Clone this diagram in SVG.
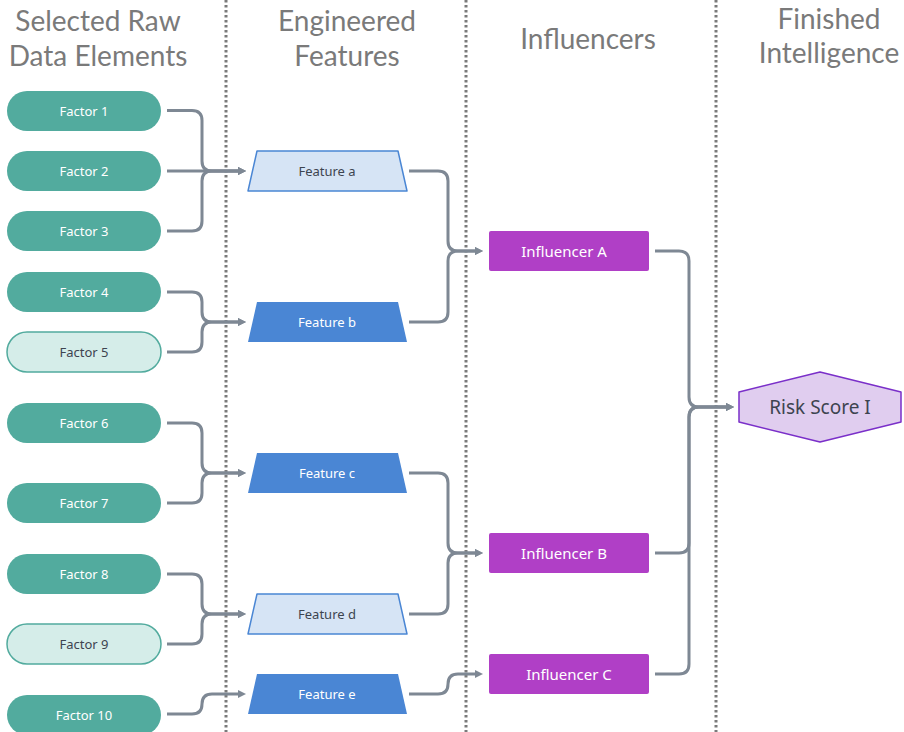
<svg xmlns="http://www.w3.org/2000/svg" width="904" height="732" viewBox="0 0 904 732">
<defs>
<marker id="arr" markerUnits="userSpaceOnUse" markerWidth="10" markerHeight="10" refX="0" refY="5" orient="auto">
<path d="M0,1 L8,5 L0,9 z" fill="#7e8894"/>
</marker>
<style>
.hdr{font-family:Lato,"Noto Sans",sans-serif;font-size:28px;fill:#7a7a7a;text-anchor:middle}
.sep{stroke:#7a7a7a;stroke-width:3;stroke-dasharray:2.5 2.5;fill:none}
.con{stroke:#7e8894;stroke-width:3;fill:none;marker-end:url(#arr)}
.fac{fill:#52ab9e}
.facl{fill:#d5ede9;stroke:#52ab9e;stroke-width:1.5}
.ftd{fill:#4a86d4}
.ftl{fill:#d6e4f5;stroke:#4a86d4;stroke-width:1.5;stroke-linejoin:round}
.inf{fill:#b03fc6}
.t{font-family:"Noto Sans",Roboto,sans-serif;font-size:13px;text-anchor:middle;dominant-baseline:central}
.w{fill:#ffffff}
.d{fill:#3d4450}
.ti{font-size:15px}
</style>
</defs>
<g id="headers">
<text class="hdr" x="98" y="31">Selected Raw</text>
<text class="hdr" x="98" y="66">Data Elements</text>
<text class="hdr" x="347" y="31">Engineered</text>
<text class="hdr" x="347" y="66">Features</text>
<text class="hdr" x="588" y="49">Influencers</text>
<text class="hdr" x="829" y="29">Finished</text>
<text class="hdr" x="829" y="63">Intelligence</text>
</g>
<g id="separators">
<line class="sep" x1="226" y1="0" x2="226" y2="732"/>
<line class="sep" x1="466" y1="0" x2="466" y2="732"/>
<line class="sep" x1="716" y1="0" x2="716" y2="732"/>
</g>
<g id="connectors">
<path class="con" d="M167,110.5 H192 Q202,110.5 202,120.5 V161 Q202,171 212,171 H238"/>
<path class="con" d="M167,171 H238"/>
<path class="con" d="M167,231 H192 Q202,231 202,221 V181 Q202,171 212,171 H238"/>
<path class="con" d="M167,292 H192 Q202,292 202,302 V312 Q202,322 212,322 H238"/>
<path class="con" d="M167,352 H192 Q202,352 202,342 V332 Q202,322 212,322 H238"/>
<path class="con" d="M167,423 H192 Q202,423 202,433 V463 Q202,473 212,473 H238"/>
<path class="con" d="M167,503 H192 Q202,503 202,493 V483 Q202,473 212,473 H238"/>
<path class="con" d="M167,574 H192 Q202,574 202,584 V604 Q202,614 212,614 H238"/>
<path class="con" d="M167,644 H192 Q202,644 202,634 V624 Q202,614 212,614 H238"/>
<path class="con" d="M167,714 H192 Q202,714 202,704 Q202,694 212,694 H238"/>
<path class="con" d="M409,171 H438 Q448,171 448,181 V241 Q448,251 458,251 H475"/>
<path class="con" d="M409,322 H438 Q448,322 448,312 V261 Q448,251 458,251 H475"/>
<path class="con" d="M409,473 H438 Q448,473 448,483 V543 Q448,553 458,553 H475"/>
<path class="con" d="M409,614 H438 Q448,614 448,604 V563 Q448,553 458,553 H475"/>
<path class="con" d="M409,694 H438 Q448,694 448,684 Q448,674 458,674 H475"/>
<path class="con" d="M655,251 H679 Q689,251 689,261 V397 Q689,407 699,407 H726"/>
<path class="con" d="M655,553 H679 Q689,553 689,543 V417 Q689,407 699,407 H726"/>
<path class="con" d="M655,674 H679 Q689,674 689,664 V417 Q689,407 699,407 H726"/>
</g>
<g id="factor1"><rect class="fac" x="7" y="91" width="154" height="40" rx="20"/><text class="t w" x="84" y="111">Factor 1</text></g>
<g id="factor2"><rect class="fac" x="7" y="151" width="154" height="40" rx="20"/><text class="t w" x="84" y="171">Factor 2</text></g>
<g id="factor3"><rect class="fac" x="7" y="211" width="154" height="40" rx="20"/><text class="t w" x="84" y="231">Factor 3</text></g>
<g id="factor4"><rect class="fac" x="7" y="272" width="154" height="40" rx="20"/><text class="t w" x="84" y="292">Factor 4</text></g>
<g id="factor5"><rect class="facl" x="7" y="332" width="154" height="40" rx="20"/><text class="t d" x="84" y="352">Factor 5</text></g>
<g id="factor6"><rect class="fac" x="7" y="403" width="154" height="40" rx="20"/><text class="t w" x="84" y="423">Factor 6</text></g>
<g id="factor7"><rect class="fac" x="7" y="483" width="154" height="40" rx="20"/><text class="t w" x="84" y="503">Factor 7</text></g>
<g id="factor8"><rect class="fac" x="7" y="554" width="154" height="40" rx="20"/><text class="t w" x="84" y="574">Factor 8</text></g>
<g id="factor9"><rect class="facl" x="7" y="624" width="154" height="40" rx="20"/><text class="t d" x="84" y="644">Factor 9</text></g>
<g id="factor10"><rect class="fac" x="7" y="695" width="154" height="40" rx="20"/><text class="t w" x="84" y="715">Factor 10</text></g>
<g id="featureA"><polygon class="ftl" points="257,151 398,151 407,191 248,191"/><text class="t d" x="327" y="171">Feature a</text></g>
<g id="featureB"><polygon class="ftd" points="257,302 398,302 407,342 248,342"/><text class="t w" x="327" y="322">Feature b</text></g>
<g id="featureC"><polygon class="ftd" points="257,453 398,453 407,493 248,493"/><text class="t w" x="327" y="473">Feature c</text></g>
<g id="featureD"><polygon class="ftl" points="257,594 398,594 407,634 248,634"/><text class="t d" x="327" y="614">Feature d</text></g>
<g id="featureE"><polygon class="ftd" points="257,674 398,674 407,714 248,714"/><text class="t w" x="327" y="694">Feature e</text></g>
<g id="influencerA"><rect class="inf" x="489" y="231" width="160" height="40" rx="2"/><text class="t w ti" x="564" y="251">Influencer A</text></g>
<g id="influencerB"><rect class="inf" x="489" y="533" width="160" height="40" rx="2"/><text class="t w ti" x="564" y="553">Influencer B</text></g>
<g id="influencerC"><rect class="inf" x="489" y="654" width="160" height="40" rx="2"/><text class="t w ti" x="569" y="674">Influencer C</text></g>
<g id="riskScore"><polygon points="739,392 820,372 901,392 901,422 820,442 739,422" fill="#e0cdef" stroke="#7a2fc9" stroke-width="1.5" stroke-linejoin="round"/><text class="t d" style="font-size:19px" x="820" y="407">Risk Score I</text></g>
</svg>
